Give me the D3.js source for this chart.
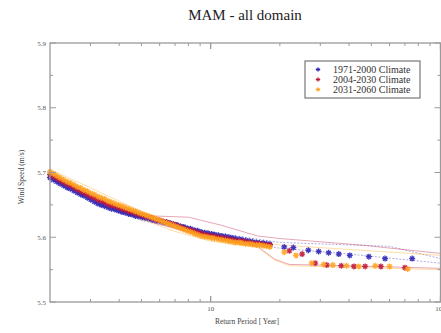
<!DOCTYPE html>
<html>
<head>
<meta charset="utf-8">
<script src="https://cdn.jsdelivr.net/npm/d3@7"></script>
<style>
  body { margin: 0; background: #fff; }
  svg { display: block; font-family: "Liberation Serif", "Times New Roman", serif; }
</style>
</head>
<body>
<div id="chart"></div>
<script>
// --- data ---
var title = "MAM - all domain";
var seriesNames = ["1971-2000 Climate", "2004-2030 Climate", "2031-2060 Climate"];
var seriesColors = ["#2a22b4", "#c0183c", "#ffa21e"];

var yTicks = [5.5, 5.6, 5.7, 5.8, 5.9];
var xTickLabels = [10, 100];

// return periods shared by the dense part of each series
var denseT = [2.00, 2.07, 2.14, 2.21, 2.29, 2.37, 2.45, 2.54, 2.63, 2.72, 2.81, 2.91,
  3.01, 3.12, 3.23, 3.34, 3.46, 3.58, 3.70, 3.83, 3.97, 4.11, 4.25, 4.40, 4.55, 4.71,
  4.88, 5.05, 5.23, 5.41, 5.60, 5.80, 6.00, 6.21, 6.43, 6.65, 6.89, 7.13, 7.38, 7.64,
  7.91, 8.18, 8.47, 8.77, 9.08, 9.40, 9.73, 10.1, 10.4, 10.8, 11.2, 11.6, 12.0, 12.4,
  12.8, 13.3, 13.7, 14.2, 14.7, 15.2, 15.8, 16.3, 16.9, 17.5, 18.1];

var blueT = denseT.concat([20.9, 22.9, 26.6, 29.5, 32.6, 36.1, 40.3, 48.8, 57.4, 75.3]);
var blueValues = [5.692, 5.689, 5.686, 5.683, 5.680, 5.677, 5.675, 5.672, 5.669, 5.666,
  5.664, 5.661, 5.658, 5.655, 5.652, 5.650, 5.648, 5.646, 5.644, 5.643, 5.641, 5.639,
  5.638, 5.636, 5.635, 5.633, 5.632, 5.631, 5.630, 5.629, 5.627, 5.626, 5.625, 5.624,
  5.623, 5.622, 5.620, 5.619, 5.617, 5.616, 5.614, 5.613, 5.611, 5.610, 5.608, 5.607,
  5.606, 5.605, 5.604, 5.603, 5.602, 5.601, 5.600, 5.599, 5.598, 5.597, 5.596, 5.595,
  5.594, 5.593, 5.592, 5.591, 5.591, 5.590, 5.589,
  5.585, 5.584, 5.580, 5.578, 5.576, 5.574, 5.572, 5.570, 5.567, 5.567];

var redT = denseT.concat([22.0, 25.0, 28.5, 32.0, 37.0, 42.0, 47.0, 55.0, 70.0]);
var redValues = [5.697, 5.694, 5.691, 5.688, 5.685, 5.682, 5.680, 5.677, 5.674, 5.671,
  5.669, 5.666, 5.663, 5.661, 5.658, 5.656, 5.654, 5.651, 5.649, 5.648, 5.646, 5.644,
  5.642, 5.640, 5.639, 5.637, 5.635, 5.634, 5.632, 5.631, 5.629, 5.627, 5.626, 5.624,
  5.623, 5.621, 5.620, 5.618, 5.616, 5.614, 5.612, 5.611, 5.609, 5.607, 5.606, 5.604,
  5.603, 5.602, 5.601, 5.600, 5.599, 5.598, 5.597, 5.596, 5.595, 5.594, 5.594, 5.593,
  5.592, 5.591, 5.590, 5.590, 5.589, 5.588, 5.588,
  5.579, 5.574, 5.560, 5.557, 5.556, 5.555, 5.555, 5.555, 5.553];

var orangeT = denseT.concat([20.9, 23.5, 27.5, 31.0, 34.0, 39.0, 44.0, 52.0, 60.0, 72.0]);
var orangeValues = [5.701, 5.698, 5.695, 5.692, 5.689, 5.686, 5.684, 5.681, 5.678, 5.676,
  5.673, 5.671, 5.668, 5.666, 5.663, 5.661, 5.659, 5.656, 5.654, 5.652, 5.650, 5.648,
  5.646, 5.644, 5.642, 5.640, 5.638, 5.636, 5.634, 5.632, 5.630, 5.628, 5.626, 5.624,
  5.622, 5.620, 5.618, 5.616, 5.614, 5.612, 5.610, 5.608, 5.606, 5.604, 5.602, 5.601,
  5.600, 5.599, 5.598, 5.597, 5.596, 5.595, 5.594, 5.593, 5.592, 5.592, 5.591, 5.590,
  5.590, 5.589, 5.588, 5.588, 5.587, 5.586, 5.585,
  5.577, 5.572, 5.560, 5.558, 5.557, 5.556, 5.555, 5.556, 5.555, 5.551];

// thin bound lines round each series
var blueUpperT = [2, 5, 10, 20, 60, 100];
var blueUpper = [5.698, 5.634, 5.608, 5.592, 5.586, 5.567];
var blueLowerT = [2, 5, 10, 20, 40, 100];
var blueLower = [5.686, 5.626, 5.602, 5.583, 5.574, 5.560];

var redUpperT = [4, 5.5, 8, 11, 16, 20, 45, 100];
var redUpper = [5.642, 5.633, 5.631, 5.619, 5.602, 5.598, 5.588, 5.575];
var redLowerT = [2, 5, 10, 16, 19, 22, 40, 100];
var redLowerV = [5.690, 5.628, 5.598, 5.586, 5.566, 5.558, 5.556, 5.552];

var orangeUpperT = [2, 5, 10, 20, 100];
var orangeUpper = [5.705, 5.640, 5.603, 5.588, 5.572];
var orangeLowerT = [2, 4, 7, 10, 16, 19, 22, 100];
var orangeLower = [5.694, 5.640, 5.609, 5.594, 5.584, 5.565, 5.556, 5.550];

/*
 ************************
 *** HELPER FUNCTIONS ***
 ************************
 */

// --- pairs x and y arrays into points ---
function zip(xs, ys) {
  var res = [];
  for (var i = 0; i < xs.length; i++) {
    res.push({ t: xs[i], v: ys[i] });
  }
  return res;
}

function translate(x, y) {
  return "translate(" + x + ", " + y + ")";
}

// --- matlab-like '*' marker ---
function asterisk(r) {
  var d = r * 0.7;
  return "M" + -r + ",0L" + r + ",0M0," + -r + "L0," + r +
    "M" + -d + "," + -d + "L" + d + "," + d + "M" + -d + "," + d + "L" + d + "," + -d;
}

/*
 *************
 *** CHART ***
 *************
 */
function drawChart() {
  var w = 441, h = 333;
  // careful: `top` is taken by window, so keep these local
  var pLeft = 50, pRight = 440.5, pTop = 43, pBottom = 302;
  var axisColor = "#9a9a9a";

  var svg = d3.select("#chart").append("svg")
    .attr("width", w)
    .attr("height", h)
    .attr("viewBox", "0 0 " + w + " " + h);

  var xScale = d3.scaleLog().domain([2, 100]).range([pLeft, pRight]);
  var yScale = d3.scaleLinear().domain([5.5, 5.9]).range([pBottom, pTop]);

  // title
  svg.append("text")
    .attr("x", 245)
    .attr("y", 20)
    .attr("text-anchor", "middle")
    .attr("font-size", "15px")
    .attr("fill", "#222")
    .text(title);

  var series = [
    { pts: zip(blueT, blueValues), up: zip(blueUpperT, blueUpper), low: zip(blueLowerT, blueLower) },
    { pts: zip(redT, redValues), up: zip(redUpperT, redUpper), low: zip(redLowerT, redLowerV) },
    { pts: zip(orangeT, orangeValues), up: zip(orangeUpperT, orangeUpper), low: zip(orangeLowerT, orangeLower) }
  ];

  var line = d3.line()
    .x(function (d) { return xScale(d.t); })
    .y(function (d) { return yScale(d.v); });

  var plot = svg.append("g");

  // bound lines first, thin and light
  series.forEach(function (s, i) {
    [s.up, s.low].forEach(function (b) {
      plot.append("path")
        .attr("d", line(b))
        .attr("fill", "none")
        .attr("stroke", seriesColors[i])
        .attr("stroke-width", 0.7)
        .attr("stroke-dasharray", i == 0 ? "2,1.5" : null)
        .attr("opacity", 0.55);
    });
  });

  // markers
  series.forEach(function (s, i) {
    plot.selectAll(".m" + i)
      .data(s.pts)
      .enter()
      .append("path")
      .attr("class", "m" + i)
      .attr("transform", function (d) { return translate(xScale(d.t), yScale(d.v)); })
      .attr("d", asterisk(3))
      .attr("fill", "none")
      .attr("stroke", seriesColors[i])
      .attr("stroke-width", 1.3)
      .attr("opacity", 0.9);
  });

  // --- axes box with inward ticks ---
  var axes = svg.append("g").attr("stroke", axisColor).attr("fill", "none");
  axes.append("rect")
    .attr("x", pLeft).attr("y", pTop)
    .attr("width", pRight - pLeft).attr("height", pBottom - pTop)
    .attr("stroke-width", 1.3);

  var xMinor = [3, 4, 5, 6, 7, 8, 9, 20, 30, 40, 50, 60, 70, 80, 90];
  xMinor.forEach(function (t) {
    var x = xScale(t);
    axes.append("line").attr("x1", x).attr("x2", x).attr("y1", pBottom).attr("y2", pBottom - 3);
    axes.append("line").attr("x1", x).attr("x2", x).attr("y1", pTop).attr("y2", pTop + 3);
  });
  xTickLabels.forEach(function (t) {
    var x = xScale(t);
    axes.append("line").attr("x1", x).attr("x2", x).attr("y1", pBottom).attr("y2", pBottom - 6).attr("stroke-width", 1.3);
    axes.append("line").attr("x1", x).attr("x2", x).attr("y1", pTop).attr("y2", pTop + 6).attr("stroke-width", 1.3);
  });

  var yMinor = [5.55, 5.65, 5.75, 5.85];
  yMinor.forEach(function (v) {
    var y = yScale(v);
    axes.append("line").attr("x1", pLeft).attr("x2", pLeft + 3).attr("y1", y).attr("y2", y);
    axes.append("line").attr("x1", pRight).attr("x2", pRight - 3).attr("y1", y).attr("y2", y);
  });
  yTicks.forEach(function (v) {
    var y = yScale(v);
    axes.append("line").attr("x1", pLeft).attr("x2", pLeft + 6).attr("y1", y).attr("y2", y);
    axes.append("line").attr("x1", pRight).attr("x2", pRight - 6).attr("y1", y).attr("y2", y);
  });

  // tick labels
  svg.selectAll(".ylab")
    .data(yTicks)
    .enter()
    .append("text")
    .attr("class", "ylab")
    .attr("x", pLeft - 4)
    .attr("y", function (d) { return yScale(d) + 2.5; })
    .attr("text-anchor", "end")
    .attr("font-size", "7px")
    .attr("fill", "#555")
    .text(function (d) { return d3.format(".1f")(d); });

  svg.selectAll(".xlab")
    .data(xTickLabels)
    .enter()
    .append("text")
    .attr("class", "xlab")
    .attr("x", function (d) { return xScale(d); })
    .attr("y", pBottom + 9)
    .attr("text-anchor", "middle")
    .attr("font-size", "7px")
    .attr("fill", "#555")
    .text(function (d) { return d; });

  // axis titles
  svg.append("text")
    .attr("x", 247)
    .attr("y", 324)
    .attr("text-anchor", "middle")
    .attr("font-size", "7.5px")
    .attr("fill", "#444")
    .text("Return Period [ Year]");

  svg.append("text")
    .attr("transform", translate(24, 177) + " rotate(-90)")
    .attr("text-anchor", "middle")
    .attr("font-size", "7.5px")
    .attr("fill", "#444")
    .text("Wind Speed (m/s)");

  // --- legend ---
  var legend = svg.append("g").attr("transform", translate(305, 61));
  legend.append("rect")
    .attr("width", 115).attr("height", 37)
    .attr("fill", "#fff")
    .attr("stroke", "#777")
    .attr("stroke-width", 1.2);

  seriesNames.forEach(function (name, i) {
    var y = 8.5 + i * 10;
    legend.append("path")
      .attr("transform", translate(13, y))
      .attr("d", asterisk(2.2))
      .attr("fill", "none")
      .attr("stroke", seriesColors[i])
      .attr("stroke-width", 1);
    legend.append("text")
      .attr("x", 28)
      .attr("y", y + 3)
      .attr("font-size", "10px")
      .attr("fill", "#333")
      .text(name);
  });
}

drawChart();
</script>
</body>
</html>
